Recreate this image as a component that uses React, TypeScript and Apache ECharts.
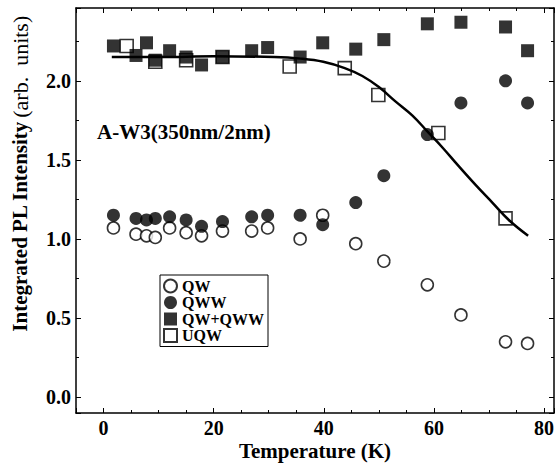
import React, { useEffect, useRef } from "react";
import * as echarts from "echarts";

// Temperatures (K) shared by QW, QWW, QW+QWW measurements
const temperatures = [1.8, 5.9, 7.8, 9.4, 12, 15, 17.8, 21.6, 26.9, 29.8, 35.7, 39.8, 45.8, 50.9, 58.8, 64.9, 73, 77];
const qw = [1.07, 1.03, 1.02, 1.01, 1.07, 1.04, 1.02, 1.05, 1.05, 1.07, 1.0, 1.15, 0.97, 0.86, 0.71, 0.52, 0.35, 0.34];
const qww = [1.15, 1.13, 1.12, 1.13, 1.14, 1.12, 1.08, 1.11, 1.14, 1.15, 1.15, 1.09, 1.23, 1.4, 1.66, 1.86, 2.0, 1.86];
const qwPlusQww = [2.22, 2.16, 2.24, 2.13, 2.19, 2.15, 2.1, 2.15, 2.19, 2.21, 2.15, 2.24, 2.2, 2.26, 2.36, 2.37, 2.34, 2.19];

const uqwTemps = [4.2, 9.4, 15, 21.6, 33.8, 43.8, 49.9, 60.8, 73];
const uqw = [2.22, 2.12, 2.13, 2.15, 2.09, 2.08, 1.91, 1.67, 1.13];

// Fit curve
const fitTemps = [1.5, 10, 20, 31, 35.8, 39.9, 43.8, 47, 50, 53, 56.1, 58.8, 61.5, 64.5, 67.6, 70.6, 73.6, 77.1];
const fitValues = [2.15, 2.15, 2.155, 2.15, 2.14, 2.12, 2.08, 2.03, 1.96, 1.87, 1.78, 1.68, 1.58, 1.46, 1.34, 1.23, 1.12, 1.02];

const legendNames = ["QW", "QWW", "QW+QWW", "UQW"];
const sampleLabel = "A-W3(350nm/2nm)";
const xTitle = "Temperature (K)";
const yTitleBold = "Integrated PL Intensity";
const yTitleRegular = "(arb.  units)";

const FONT = "'Liberation Serif', 'Times New Roman', serif";

const zip = (xs: number[], ys: number[]) => xs.map((x, i) => [x, ys[i]]);

export default function App() {
  const ref = useRef<HTMLDivElement>(null);
  useEffect(() => {
    if (!ref.current) return;
    const chart = echarts.init(ref.current, null, { renderer: "svg" });
    const axisLine = { show: true, onZero: false, lineStyle: { color: "#000", width: 1.5 } };
    const xBase = {
      type: "value" as const,
      min: -5,
      max: 81.8,
      splitNumber: 4,
      axisLine,
      axisTick: { show: true, inside: true, length: 5, lineStyle: { color: "#000", width: 1 } },
      minorTick: { show: true, splitNumber: 4, length: 3, lineStyle: { color: "#000", width: 1 } },
      splitLine: { show: false },
      minorSplitLine: { show: false },
    };
    const yBase = {
      type: "value" as const,
      min: -0.1,
      max: 2.46,
      splitNumber: 5,
      axisLine,
      axisTick: { show: true, inside: true, length: 5, lineStyle: { color: "#000", width: 1 } },
      minorTick: { show: true, splitNumber: 2, length: 3, lineStyle: { color: "#000", width: 1 } },
      splitLine: { show: false },
      minorSplitLine: { show: false },
    };
    const openStyle = { color: "#fff", borderColor: "#000", borderWidth: 1.6 };
    const filledStyle = { color: "#000", borderColor: "#000", borderWidth: 0 };
    chart.setOption({
      animation: false,
      backgroundColor: "#fff",
      grid: { left: 76, right: 2, top: 8, bottom: 50, outerBoundsMode: "none" },
      legend: {
        data: legendNames,
        orient: "vertical",
        left: 160,
        top: 275,
        borderColor: "#000",
        borderWidth: 1,
        padding: [3, 4, 3, 3],
        itemGap: 0.5,
        itemWidth: 13,
        itemHeight: 13,
        selectedMode: false,
        textStyle: { fontFamily: FONT, fontWeight: "bold", fontSize: 16, color: "#000" },
      },
      xAxis: [
        {
          ...xBase,
          position: "bottom",
          name: xTitle,
          nameLocation: "middle",
          nameGap: 27,
          nameMoveOverlap: false,
          nameTextStyle: { fontFamily: FONT, fontWeight: "bold", fontSize: 21, color: "#000" },
          axisLabel: {
            show: true,
            margin: 5,
            fontFamily: FONT,
            fontWeight: "bold",
            fontSize: 20,
            color: "#000",
            formatter: (v: number) => (Math.abs(v % 20) < 1e-6 ? String(v) : ""),
          },
        },
        { ...xBase, position: "top", axisLabel: { show: false } },
      ],
      yAxis: [
        {
          ...yBase,
          position: "left",
          axisLabel: {
            show: true,
            margin: 5,
            fontFamily: FONT,
            fontWeight: "bold",
            fontSize: 20,
            color: "#000",
            formatter: (v: number) => {
              const r = Math.round(v * 10) / 10;
              return Math.abs(v * 2 - Math.round(v * 2)) < 1e-6 ? r.toFixed(1) : "";
            },
          },
        },
        { ...yBase, position: "right", axisLabel: { show: false } },
      ],
      graphic: [
        {
          type: "text",
          left: 97,
          top: 121,
          style: {
            text: sampleLabel,
            fontFamily: FONT,
            fontWeight: "bold",
            fontSize: 21,
            fill: "#000",
          },
        },
        {
          type: "text",
          x: 20,
          y: 174,
          rotation: Math.PI / 2,
          style: {
            text: `{b|${yTitleBold}} {r|${yTitleRegular}}`,
            align: "center",
            verticalAlign: "middle",
            fill: "#000",
            rich: {
              b: { fontFamily: FONT, fontWeight: "bold", fontSize: 21, fill: "#000" },
              r: { fontFamily: FONT, fontWeight: "normal", fontSize: 22, fill: "#000" },
            },
          },
        },
      ],
      series: [
        {
          name: "UQW",
          type: "scatter",
          symbol: "rect",
          symbolSize: 13,
          data: zip(uqwTemps, uqw),
          itemStyle: openStyle,
          z: 2,
        },
        {
          name: "QW+QWW",
          type: "scatter",
          symbol: "rect",
          symbolSize: 13,
          data: zip(temperatures, qwPlusQww),
          itemStyle: filledStyle,
          z: 3,
        },
        {
          name: "QW",
          type: "scatter",
          symbol: "circle",
          symbolSize: 12,
          data: zip(temperatures, qw),
          itemStyle: openStyle,
          z: 2,
        },
        {
          name: "QWW",
          type: "scatter",
          symbol: "circle",
          symbolSize: 13,
          data: zip(temperatures, qww),
          itemStyle: filledStyle,
          z: 3,
        },
        {
          name: "fit",
          type: "line",
          data: zip(fitTemps, fitValues),
          smooth: 0.4,
          symbol: "none",
          lineStyle: { color: "#000", width: 2.5 },
          z: 4,
        },
      ],
    });
    return () => chart.dispose();
  }, []);
  return (
    <div
      ref={ref}
      style={{ position: "fixed", left: 0, top: 0, width: 556, height: 463 }}
    />
  );
}
